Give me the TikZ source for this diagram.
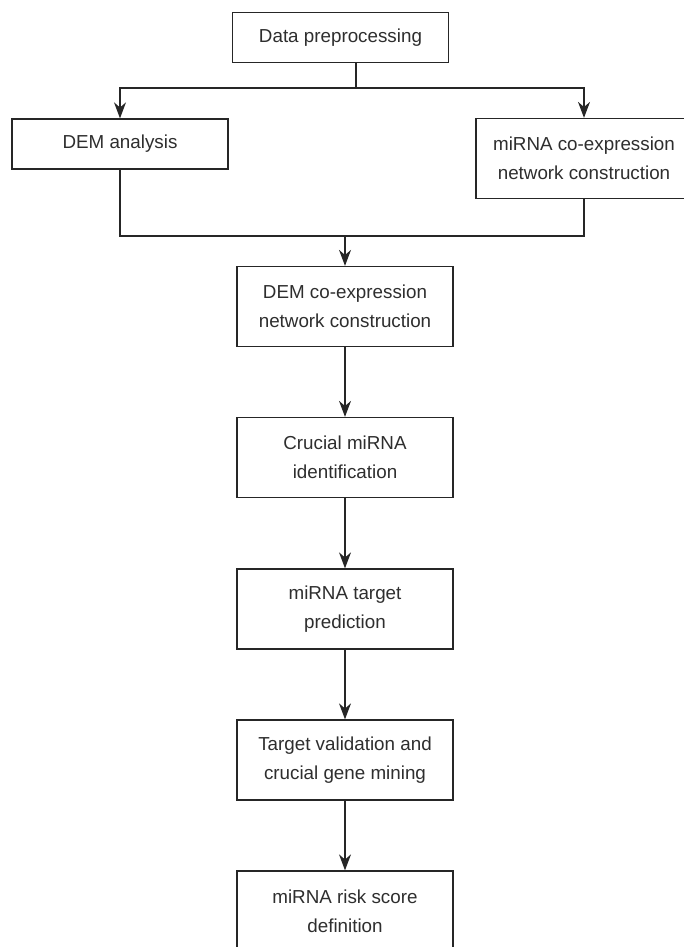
\documentclass[tikz,border=0pt]{standalone}
\usepackage{fontspec}
\setmainfont{Liberation Sans}
\usetikzlibrary{arrows.meta}
\definecolor{lc}{HTML}{262626}
\definecolor{tc}{HTML}{2E2E2E}
\begin{document}
\begin{tikzpicture}[x=0.5pt,y=-0.5pt,
  box/.style={draw=lc, line width=0.65pt, rectangle, minimum width=108pt, inner sep=0pt,
    text=tc, align=center, font=\fontsize{9.4}{14.5}\selectfont},
  onebox/.style={box, minimum height=25pt},
  twobox/.style={box, minimum height=40pt},
  conn/.style={draw=lc, line width=0.65pt},
  arr/.style={conn, -{Stealth[length=8pt, width=6pt, inset=2.6pt]}}]
\useasboundingbox (0,0) rectangle (684,947);
\clip (0,0) rectangle (684,947);
\fill[white] (0,0) rectangle (684,947);

\node[onebox] (top) at (340.5,37.7) {Data preprocessing};
\node[onebox] (dem) at (120,144) {DEM analysis};
\node[twobox] (mirna) at (584,158.5) {miRNA co-expression\\network construction};
\node[twobox] (demco) at (345,306.5) {DEM co-expression\\network construction};
\node[twobox] (crucial) at (345,457.5) {Crucial miRNA\\identification};
\node[twobox] (target) at (345,609) {miRNA target\\prediction};
\node[twobox] (valid) at (345,760) {Target validation and\\crucial gene mining};
\node[twobox] (risk) at (345,911) {miRNA risk score\\definition};

\coordinate (split) at (356,88);
\coordinate (merge) at (345,236);

\draw[conn] (top.south -| split) -- (split);
\draw[arr] (split) -| (dem.north);
\draw[arr] (split) -| (mirna.north);
\draw[conn] (dem.south) |- (merge);
\draw[conn] (mirna.south) |- (merge);
\draw[arr] (merge) -- (demco.north);
\draw[arr] (demco) -- (crucial);
\draw[arr] (crucial) -- (target);
\draw[arr] (target) -- (valid);
\draw[arr] (valid) -- (risk);
\end{tikzpicture}
\end{document}
